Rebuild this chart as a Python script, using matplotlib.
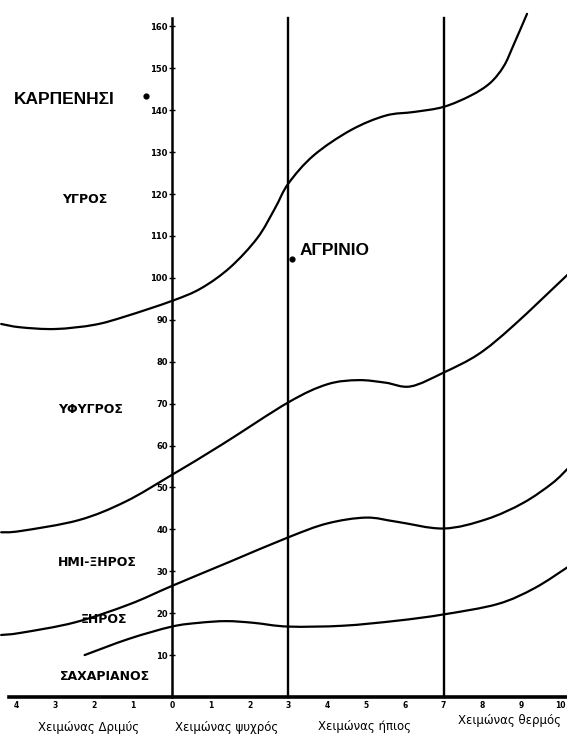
import numpy as np
import matplotlib.pyplot as plt
from matplotlib.path import Path
from matplotlib.patches import PathPatch

# Emberger climatogram: x = winter minimum temperature (m), y = pluviothermic quotient Q2
# boundary curves
hum_x = [-4.4, -3.9, -3.0, -2.0, -1.2, 0.0, 0.75, 1.5, 2.2, 2.65, 3.0, 3.65, 4.6, 5.5, 6.25, 7.0, 7.7, 8.2, 8.55, 8.8, 9.15]
hum_y = [89.0, 88.2, 87.8, 88.8, 90.8, 94.5, 97.5, 102.5, 109.5, 116.5, 122.5, 129.2, 135.2, 138.7, 139.6, 140.8, 143.5, 146.5, 150.5, 155.5, 163.0]

sub_x = [-4.4, -3.9, -2.4, -1.2, 0.0, 1.3, 3.0, 4.0, 4.8, 5.5, 6.15, 7.0, 7.9, 8.8, 10.2]
sub_y = [39.3, 39.6, 42.2, 46.6, 53.0, 60.3, 70.3, 74.6, 75.6, 75.0, 74.1, 77.4, 81.8, 88.6, 100.8]

semi_x = [-4.4, -3.9, -2.5, -1.1, 0.0, 1.5, 3.0, 4.0, 5.0, 5.8, 7.0, 8.1, 9.05, 9.8, 10.2]
semi_y = [14.8, 15.3, 17.8, 22.1, 26.5, 32.3, 38.1, 41.4, 42.8, 41.8, 40.2, 42.4, 46.3, 51.0, 54.5]

arid_x = [-2.25, -1.1, 0.0, 0.7, 1.4, 2.1, 3.0, 4.4, 5.8, 7.0, 8.4, 9.35, 10.2]
arid_y = [10.0, 13.9, 16.8, 17.7, 18.1, 17.7, 16.8, 17.0, 18.2, 19.7, 22.2, 26.0, 31.0]

x_ticks = list(range(-4, 11))
x_tick_labels = ['4', '3', '2', '1', '0', '1', '2', '3', '4', '5', '6', '7', '8', '9', '10']
y_ticks = list(range(10, 170, 10))

zones = ['ΥΓΡΟΣ', 'ΥΦΥΓΡΟΣ', 'ΗΜΙ-ΞΗΡΟΣ', 'ΞΗΡΟΣ', 'ΣΑΧΑΡΙΑΝΟΣ']
zone_x = [-2.24, -2.1, -1.93, -1.75, -1.73]
zone_y = [118.6, 68.5, 32.2, 18.4, 4.8]

winters = ['Χειμώνας Δριμύς', 'Χειμώνας ψυχρός', 'Χειμώνας ήπιος', 'Χειμώνας θερμός']
winter_x = [-2.16, 1.42, 4.97, 8.71]
winter_y = [-7.3, -7.3, -7.0, -5.6]

stations = ['ΚΑΡΠΕΝΗΣΙ', 'ΑΓΡΙΝΙΟ']
station_m = [-0.67, 3.09]
station_q = [143.4, 104.5]

narrow = ['Liberation Sans Narrow', 'DejaVu Sans']


def smooth_path(xs, ys):
	# cubic bezier segments through the read points (catmull-rom tangents)
	p = np.column_stack([xs, ys])
	p = np.vstack([p[0], p, p[-1]])
	verts = [p[1]]
	codes = [Path.MOVETO]
	for i in range(1, len(p) - 2):
		c1 = p[i] + (p[i + 1] - p[i - 1]) / 6.0
		c2 = p[i + 1] - (p[i + 2] - p[i]) / 6.0
		verts += [c1, c2, p[i + 1]]
		codes += [Path.CURVE4] * 3
	return Path(verts, codes)


fig = plt.figure(figsize=(5.67, 7.35), dpi=100)
ax = fig.add_axes([0, 0, 1, 1])
ax.set_xlim(-4.43, 10.18)
ax.set_ylim(-9.07, 166.3)

for xs, ys in [(hum_x, hum_y), (sub_x, sub_y), (semi_x, semi_y), (arid_x, arid_y)]:
	ax.add_patch(PathPatch(smooth_path(xs, ys), fill=False, edgecolor='black', lw=1.6, capstyle='round'))

# winter-type separators
for xv in [3, 7]:
	ax.plot([xv, xv], [0, 162], color='black', lw=1.7)

# axes as spines through the origin
for s in ['top', 'right']:
	ax.spines[s].set_visible(False)
ax.spines['left'].set_position(('data', 0))
ax.spines['left'].set_bounds(0, 162)
ax.spines['left'].set_linewidth(1.8)
ax.spines['bottom'].set_position(('data', 0))
ax.spines['bottom'].set_bounds(-4.2, 10.18)
ax.spines['bottom'].set_linewidth(2.6)

ax.set_yticks(y_ticks)
ax.set_yticklabels([str(v) for v in y_ticks], fontsize=6, fontweight='bold', family=narrow)
ax.tick_params(axis='y', direction='inout', length=4, width=1, pad=1)
ax.set_xticks(x_ticks)
ax.set_xticklabels(x_tick_labels, fontsize=5.5, fontweight='bold')
ax.tick_params(axis='x', length=0, pad=3)

for name, zx, zy in zip(zones, zone_x, zone_y):
	ax.text(zx, zy, name, fontsize=9, fontweight='bold', family=narrow, ha='center', va='center')

for name, wx, wy in zip(winters, winter_x, winter_y):
	ax.text(wx, wy, name, fontsize=8.5, family=narrow, ha='center', va='center')

ax.scatter(station_m, station_q, s=12, color='black', zorder=3)
ax.text(-4.07, 142.5, stations[0], fontsize=12.5, fontweight='bold', family='Liberation Sans', ha='left', va='center')
ax.text(3.3, 106.5, stations[1], fontsize=12.5, fontweight='bold', family='Liberation Sans', ha='left', va='center')

plt.savefig('out.png', dpi=100)
